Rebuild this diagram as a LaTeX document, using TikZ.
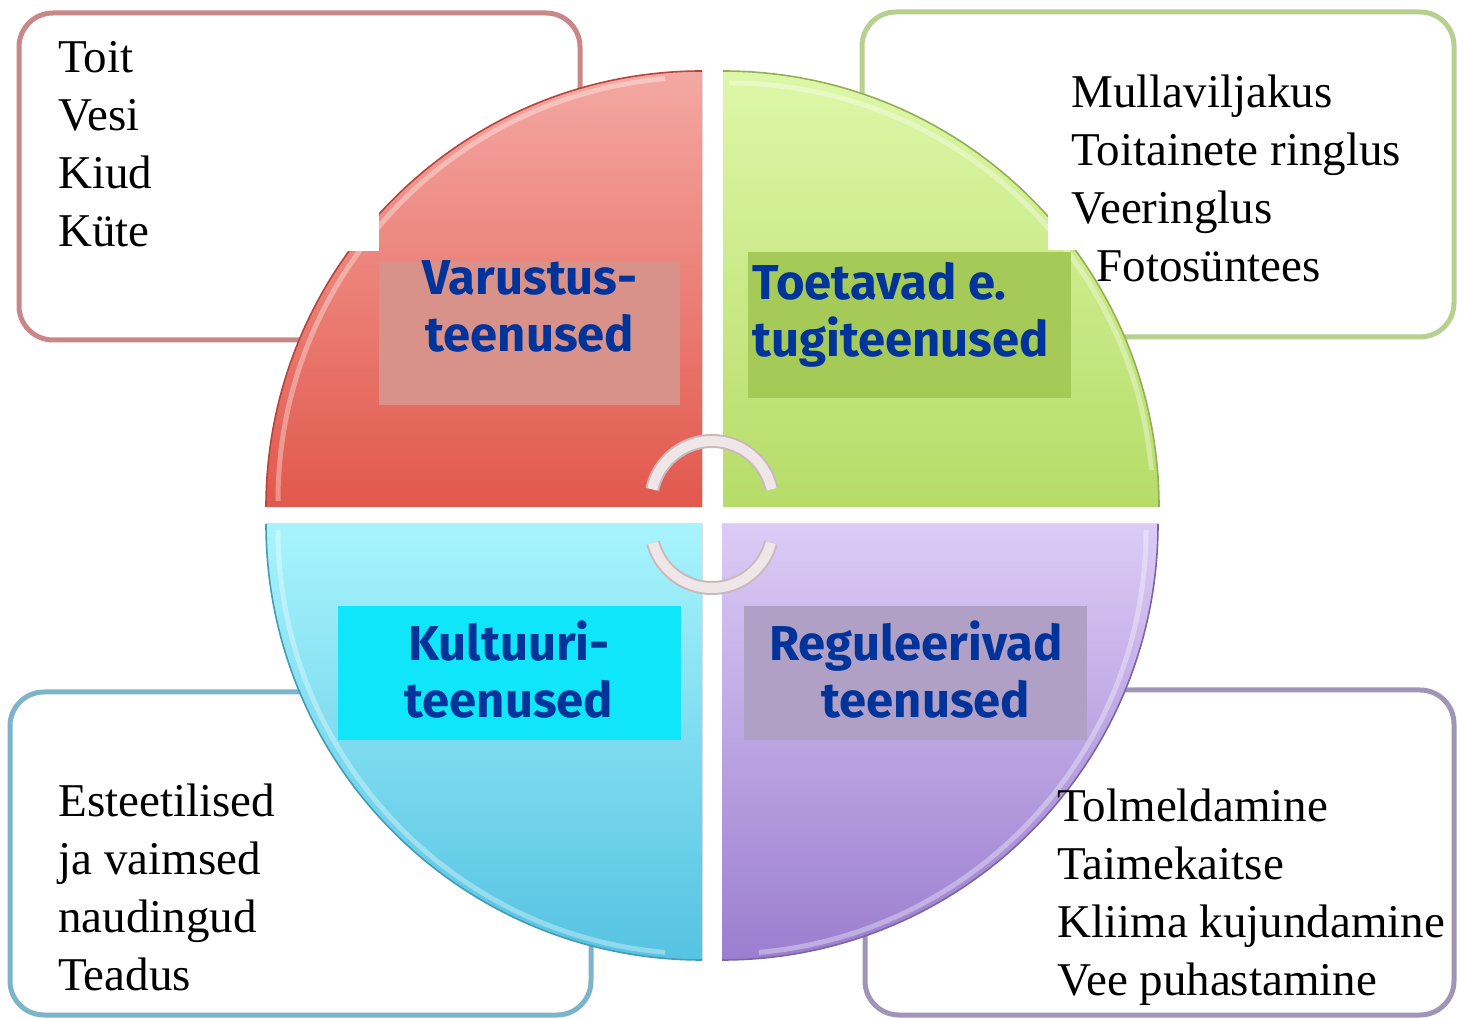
\documentclass[tikz,border=0pt]{standalone}
\usepackage{fontspec}
\setmainfont{Liberation Serif}
\newfontfamily\roundfont{Fira Sans}
\usepackage{xcolor}
\usetikzlibrary{positioning}
\definecolor{redTop}{HTML}{F4A8A2}
\definecolor{redBot}{HTML}{E2584C}
\definecolor{greenTop}{HTML}{DDF7A8}
\definecolor{greenBot}{HTML}{B6DC68}
\definecolor{blueTop}{HTML}{A8F4FD}
\definecolor{blueBot}{HTML}{55C3E2}
\definecolor{purpleTop}{HTML}{DCCBF6}
\definecolor{purpleBot}{HTML}{9B7ECF}
\definecolor{redEdge}{HTML}{C98787}
\definecolor{greenEdge}{HTML}{B7CF8F}
\definecolor{blueEdge}{HTML}{7DB4CC}
\definecolor{purpleEdge}{HTML}{9F95B8}
\definecolor{varFill}{HTML}{D9928A}
\definecolor{tugiFill}{HTML}{A6CA58}
\definecolor{kultFill}{HTML}{0FE6FA}
\definecolor{regFill}{HTML}{B1A0C6}
\definecolor{labelBlue}{HTML}{00349A}
\definecolor{arcEdge}{HTML}{C9B9BC}
\definecolor{arcFill}{HTML}{EFE6E8}
\tikzset{
  corner box/.style={draw=#1, line width=2.5pt, rounded corners=17pt, fill=white},
  item text/.style={anchor=base west, align=left, inner sep=0pt, font=\fontsize{23.5}{29}\selectfont},
  label text/.style={inner sep=0pt, text=labelBlue, font=\roundfont\bfseries\fontsize{24.5}{28.5}\selectfont},
  rim/.style={draw=#1, line width=0.8pt},
  shine/.style={draw=white, opacity=0.35, line width=2.5pt},
}
\begin{document}
\begin{tikzpicture}[x=0.5pt, y=0.5pt]
  \useasboundingbox (0,0) rectangle (1457,1018);
  \draw[corner box=redEdge] (19,678) rectangle (580,1005);
  \draw[corner box=greenEdge] (862,681) rectangle (1454,1006);
  \draw[corner box=blueEdge] (10,3) rectangle (591,326);
  \draw[corner box=purpleEdge] (865,3) rectangle (1454,328);
  \fill[top color=redTop, bottom color=redBot] (702,511) -- (266,511) arc[start angle=180, end angle=90, radius=436] -- cycle;
  \draw[rim=redBot!80!black] (266,511) arc[start angle=180, end angle=90, radius=436];
  \draw[shine] (278,517) arc[start angle=180, end angle=95, radius=424];
  \fill[top color=greenTop, bottom color=greenBot] (723,511) -- (723,947) arc[start angle=90, end angle=0, radius=436] -- cycle;
  \draw[rim=greenBot!80!black] (723,947) arc[start angle=90, end angle=0, radius=436];
  \draw[shine] (729,935) arc[start angle=90, end angle=5, radius=424];
  \fill[top color=blueTop, bottom color=blueBot] (702,494) -- (266,494) arc[start angle=180, end angle=270, radius=436] -- cycle;
  \draw[rim=blueBot!80!black] (266,494) arc[start angle=180, end angle=270, radius=436];
  \draw[shine] (278,488) arc[start angle=180, end angle=265, radius=424];
  \fill[top color=purpleTop, bottom color=purpleBot] (722,494) -- (1158,494) arc[start angle=0, end angle=-90, radius=436] -- cycle;
  \draw[rim=purpleBot!80!black] (1158,494) arc[start angle=0, end angle=-90, radius=436];
  \draw[shine] (1146,488) arc[start angle=0, end angle=-85, radius=424];
  \fill[white] (35,767) rectangle (379,985);
  \fill[white] (1048,768) rectangle (1440,968);
  \fill[varFill] (379,613) rectangle (680,756);
  \fill[tugiFill] (748,620) rectangle (1071,766);
  \fill[kultFill] (338,278) rectangle (681,412);
  \fill[regFill] (744,278) rectangle (1087,412);
  \draw[arcEdge, line width=7pt] (712,516) ++(168:61) arc[start angle=168, end angle=12, radius=61];
  \draw[arcFill, line width=5pt] (712,516) ++(168:61) arc[start angle=168, end angle=12, radius=61];
  \draw[arcEdge, line width=7pt] (712,491) ++(195:61) arc[start angle=195, end angle=345, radius=61];
  \draw[arcFill, line width=5pt] (712,491) ++(195:61) arc[start angle=195, end angle=345, radius=61];
  \node[item text] (supply) at (58,771) {Toit\\Vesi\\Kiud\\Küte};
  \node[item text] (support) at (1071,736) {Mullaviljakus\\Toitainete ringlus\\Veeringlus\\\hspace{12.5pt}Fotosüntees};
  \node[item text] (culture) at (58,28) {Esteetilised\\ja vaimsed\\naudingud\\Teadus};
  \node[item text] (regulate) at (1057,23) {Tolmeldamine\\Taimekaitse\\Kliima kujundamine\\Vee puhastamine};
  \node[label text, anchor=base, align=center] (varLabel) at (530,666) {Varustus-\\teenused};
  \node[label text, anchor=base west, align=left] (tugiLabel) at (752,661) {Toetavad e.\\tugiteenused};
  \node[label text, anchor=base, align=center] (kultLabel) at (509,300) {Kultuuri-\\teenused};
  \node[label text, anchor=base, align=center] (regLabel) at (916,300) {Reguleerivad\\\hspace{10pt}teenused};
\end{tikzpicture}
\end{document}
